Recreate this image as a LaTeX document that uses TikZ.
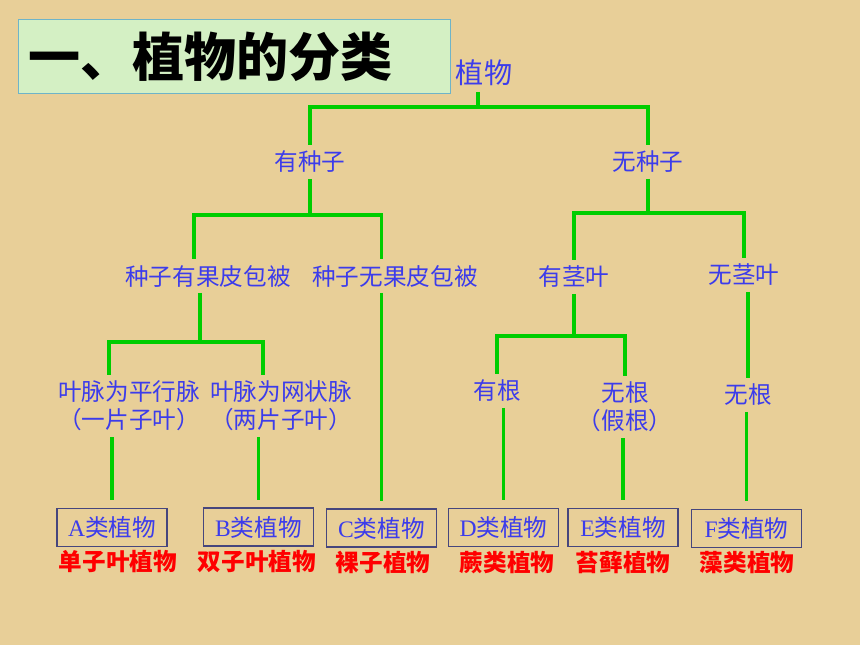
\documentclass[tikz,border=0pt]{standalone}
\usepackage{fontspec}
\setmainfont{Liberation Serif}
\newfontfamily\cjk{Noto Sans CJK SC}
\usetikzlibrary{positioning}
\definecolor{papier}{RGB}{232,207,152}
\definecolor{titelgruen}{RGB}{212,240,196}
\definecolor{titelrand}{RGB}{110,180,200}
\definecolor{blautext}{RGB}{60,60,235}
\definecolor{astgruen}{RGB}{0,205,0}
\definecolor{kastenrand}{RGB}{70,70,125}
\begin{document}
\begin{tikzpicture}[x=0.025cm, y=-0.025cm,
	every node/.style={font=\cjk\fontsize{16.8}{20}\selectfont, inner sep=4pt},
	blau/.style={text=blautext, align=center},
	rot/.style={text=red, font=\cjk\bfseries\fontsize{16.8}{20}\selectfont, inner sep=0pt},
	kasten/.style={draw=kastenrand, line width=0.8pt, text=blautext, minimum width=2.75cm, minimum height=0.95cm, outer sep=6pt, inner sep=0pt},
	ast/.style={draw=astgruen, line width=2.2pt}]
	\useasboundingbox (0,0) rectangle (860,645);
	\fill[papier] (0,0) rectangle (860,645);
	\node[draw=titelrand, fill=titelgruen, line width=0.8pt, minimum width=10.78cm, minimum height=1.83cm, text width=10.3cm, inner xsep=0.24cm, align=left, font=\cjk\bfseries\fontsize{37}{40}\selectfont] (titel) at (234.5,56.5) {一、植物的分类};
	\node[blau, font=\cjk\fontsize{20}{24}\selectfont] (zhiwu) at (484,73) {植物};
	\node[blau] (you zhongzi) at (310,162) {有种子};
	\node[blau] (wu zhongzi) at (648,162) {无种子};
	\node[blau] (you guopi) at (208,276) {种子有果皮包被};
	\node[blau] (wu guopi) at (395,276) {种子无果皮包被};
	\node[blau] (you jingye) at (574,277) {有茎叶};
	\node[blau] (wu jingye) at (744,275) {无茎叶};
	\node[blau] (pingxingmai) at (129,406) {叶脉为平行脉\\（一片子叶）};
	\node[blau] (wangzhuangmai) at (281,406) {叶脉为网状脉\\（两片子叶）};
	\node[blau] (you gen) at (497,391) {有根};
	\node[blau] (jiagen) at (625,407) {无根\\（假根）};
	\node[blau] (wu gen) at (748,395) {无根};
	\node[kasten] (A) at (112,527.5) {{\rmfamily A}类植物};
	\node[kasten] (B) at (258.5,527) {{\rmfamily B}类植物};
	\node[kasten] (C) at (381.5,528) {{\rmfamily C}类植物};
	\node[kasten] (D) at (503.5,527.5) {{\rmfamily D}类植物};
	\node[kasten] (E) at (623,527.5) {{\rmfamily E}类植物};
	\node[kasten] (F) at (746.5,528.5) {{\rmfamily F}类植物};
	\node[rot] (danziye) at (118,562) {单子叶植物};
	\node[rot] (shuangziye) at (257,562) {双子叶植物};
	\node[rot] (luozi) at (383,562) {裸子植物};
	\node[rot] (jue) at (507,563) {蕨类植物};
	\node[rot] (taixian) at (623,563) {苔藓植物};
	\node[rot] (zao) at (747,563) {藻类植物};
	\coordinate (k1) at (478,107);
	\coordinate (k2) at (310,215);
	\coordinate (k3) at (200,342);
	\coordinate (k4) at (648,213);
	\coordinate (k5) at (574,336);
	\draw[ast] (zhiwu.south -| k1) -- (k1);
	\draw[ast] (k1) -| (you zhongzi);
	\draw[ast] (k1) -| (wu zhongzi);
	\draw[ast] (you zhongzi) -- (k2);
	\draw[ast] (k2) -| ([xshift=-0.35cm]you guopi.north);
	\draw[ast] (k2) -| ([xshift=-0.33cm]wu guopi.north);
	\draw[ast] (k3 |- you guopi.south) -- (k3);
	\draw[ast] (k3) -| ([xshift=-0.5cm]pingxingmai.north);
	\draw[ast] (k3) -| ([xshift=-0.45cm]wangzhuangmai.north);
	\draw[ast] (A.north |- pingxingmai.south) -- (A);
	\draw[ast] (B.north |- wangzhuangmai.south) -- (B);
	\draw[ast] (C.north |- wu guopi.south) -- (C);
	\draw[ast] (wu zhongzi) -- (k4);
	\draw[ast] (k4) -| (you jingye);
	\draw[ast] (k4) -| (wu jingye);
	\draw[ast] (you jingye) -- (k5);
	\draw[ast] (k5) -| (you gen);
	\draw[ast] (k5) -| (jiagen);
	\draw[ast] (D.north |- you gen.south) -- (D);
	\draw[ast] (E.north |- jiagen.south) -- (E);
	\draw[ast] (wu gen.north |- wu jingye.south) -- (wu gen);
	\draw[ast] (F.north |- wu gen.south) -- (F);
\end{tikzpicture}
\end{document}
